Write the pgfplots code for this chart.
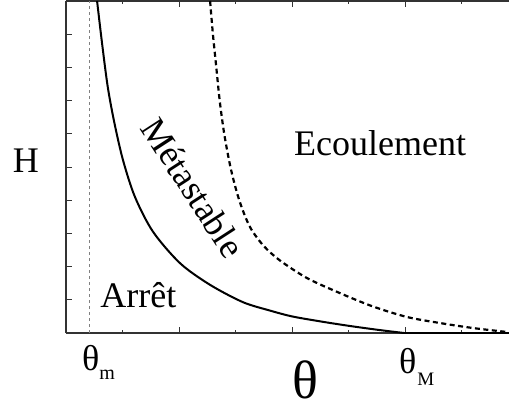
\documentclass[border=0pt]{standalone}
\usepackage{fontspec}
\setmainfont{Liberation Serif}
\usepackage{pgfplots}
\pgfplotsset{compat=1.18}

\newcommand{\lbl}{\fontsize{36}{40}\selectfont}

\begin{document}
\begin{tikzpicture}
\begin{axis}[name=ax,
    scale only axis, width=443pt, height=332pt,
    xmin=0, xmax=7.84, ymin=0, ymax=10,
    axis x line*=box, axis y line*=left,
    xtick={2,4,6}, minor xtick={1,3,5,7}, ytick={1,...,9},
    xticklabels={}, yticklabels={},
    tick align=inside, major tick length=6pt, minor tick length=3pt,
    every tick/.style={line width=1pt, black!80},
    axis line style={line width=1.2pt, black!80},
    clip=false]
% theta_m
\addplot[gray, line width=0.9pt, dash pattern=on 3pt off 3pt]
    coordinates {(0.42,0) (0.42,10)};
% arret / metastable
\addplot[black, line width=2pt, smooth] coordinates {
    (0.55,10.0) (0.64,8.7) (0.74,7.4) (0.86,6.3) (1.01,5.2)
    (1.22,4.1) (1.54,3.05) (2.02,2.1) (2.55,1.45) (3.13,0.93)
    (3.60,0.68) (4.00,0.50) (4.50,0.35) (4.99,0.22) (5.50,0.10)
    (5.98,0.0)};
\addplot[black, line width=2pt] coordinates {(5.98,0) (7.84,0)};
% metastable / ecoulement
\addplot[black, line width=2.2pt, dash pattern=on 5pt off 3.5pt, smooth] coordinates {
    (2.55,10) (2.60,9.0) (2.66,8.0) (2.72,7.0) (2.80,6.0) (2.91,5.0)
    (3.03,4.2) (3.15,3.6) (3.28,3.12) (3.50,2.62) (3.79,2.18)
    (4.27,1.65) (4.85,1.20) (5.43,0.80) (6.04,0.48) (6.62,0.30)
    (7.20,0.15) (7.81,0.03)};

\node[anchor=base] at (axis cs:5.56,5.35) {\lbl Ecoulement};
\node[anchor=base] at (axis cs:1.28,0.78) {\lbl Arrêt};
\node[rotate=-57] at (axis cs:2.25,4.38) {\lbl Métastable};
\node at (axis cs:-0.71,5.2) {\lbl H};
\node at (axis cs:0.44,-0.75) {\fontsize{36}{40}\selectfont θ};
\node at (axis cs:0.73,-1.26) {\fontsize{20}{22}\selectfont m};
\node at (axis cs:6.05,-0.84) {\fontsize{36}{40}\selectfont θ};
\node at (axis cs:6.37,-1.38) {\fontsize{19}{20}\selectfont M};
\node at (axis cs:4.23,-1.40) {\fontsize{54}{60}\selectfont θ};
\end{axis}
\pgfresetboundingbox
\path[use as bounding box] ([shift={(-66pt,-77pt)}]ax.south west)
    rectangle ([shift={(443pt,333pt)}]ax.south west);
\end{tikzpicture}
\end{document}
